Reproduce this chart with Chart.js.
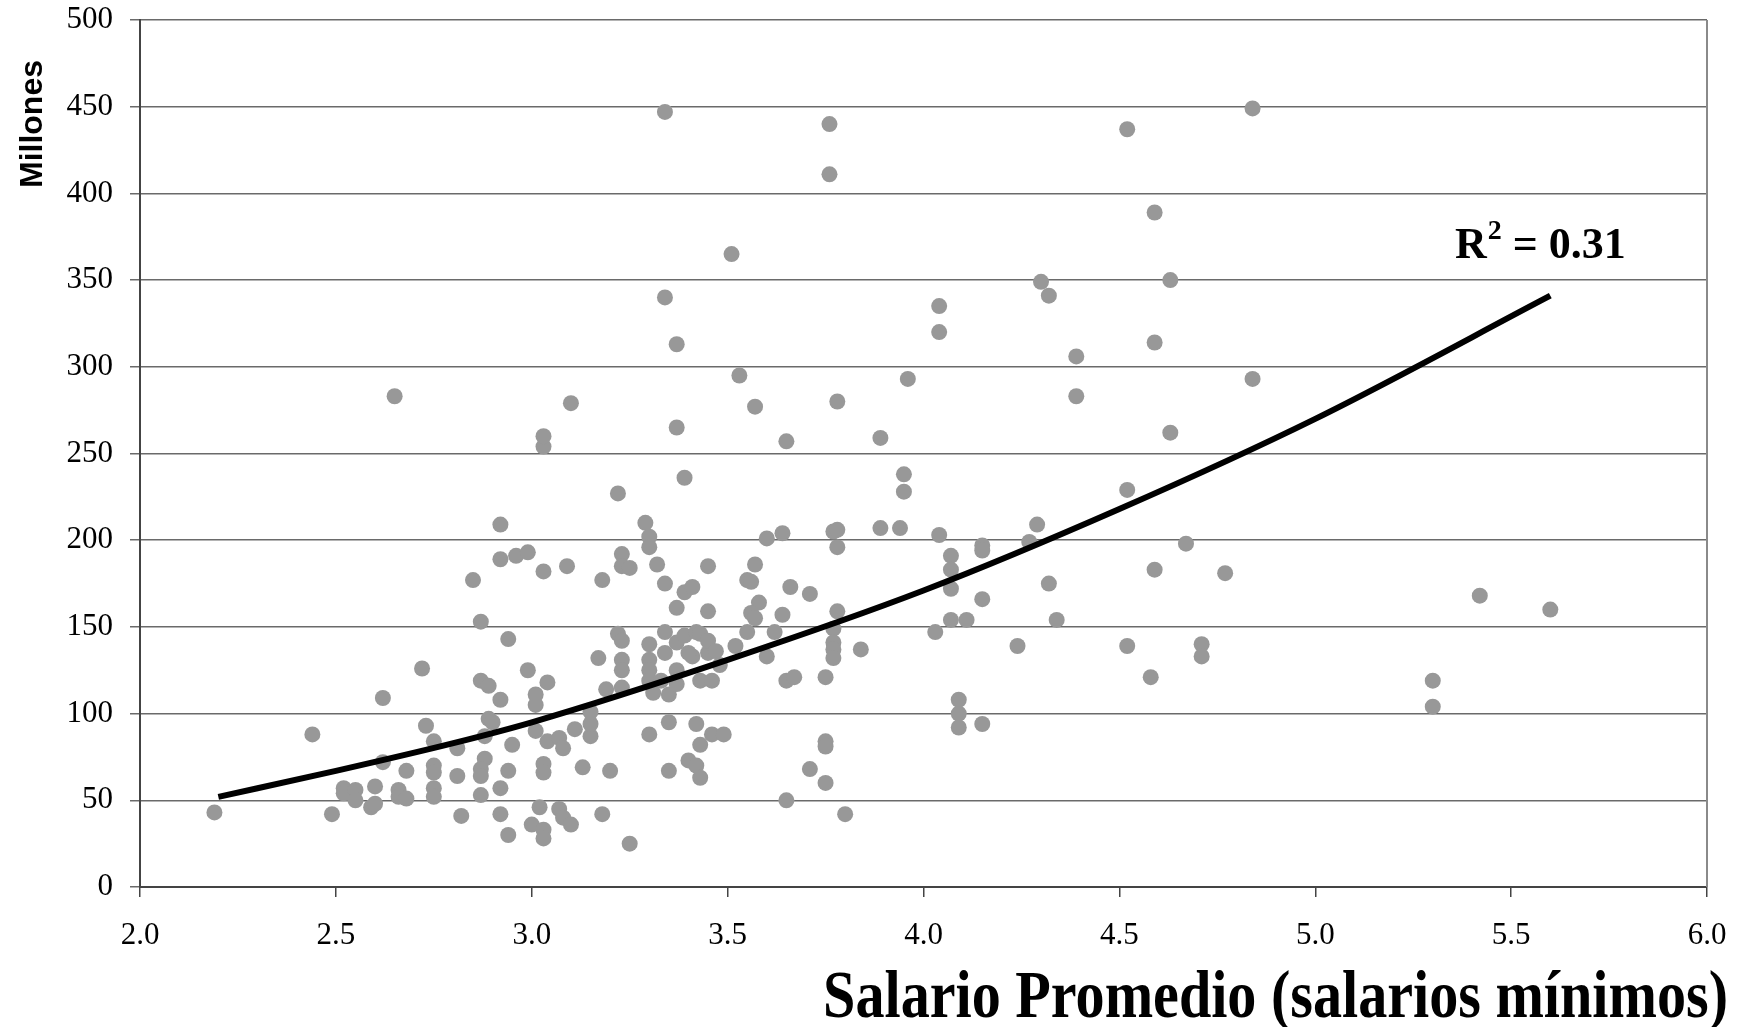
<!DOCTYPE html>
<html>
<head>
<meta charset="utf-8">
<title>Salario promedio vs millones</title>
<script src="https://cdn.jsdelivr.net/npm/chart.js@4.4.1/dist/chart.umd.min.js"></script>
<style>
  html, body { margin: 0; padding: 0; background: #fff; }
  #wrap { width: 1752px; height: 1027px; position: relative; }
</style>
</head>
<body>
<div id="wrap"><canvas id="scatterChart"></canvas></div>
<script>
// salario promedio (salarios mínimos) de cada punto
const salario = [
    2.19, 2.44, 2.49, 2.52, 2.52, 2.55, 2.55, 2.59, 2.60, 2.60,
    2.62, 2.62, 2.65, 2.66, 2.66, 2.68, 2.68, 2.72, 2.73, 2.75,
    2.75, 2.75, 2.75, 2.75,
    2.81, 2.81, 2.82, 2.85, 2.87, 2.87, 2.89, 2.92, 2.89, 2.90,
    2.88, 2.95, 2.88, 2.87, 2.87, 2.94, 2.87, 2.92, 2.92, 2.94,
    2.94, 2.92, 2.92, 2.96, 2.99, 2.99, 3.01, 3.01, 3.01, 3.04,
    3.07, 3.08, 3.03, 3.03, 3.04, 3.03, 3.09, 3.03, 3.03, 3.10,
    3.00, 3.02, 3.03, 3.03, 3.07, 3.08, 3.10, 3.11, 3.15, 3.15,
    3.15, 3.13, 3.18, 3.20, 3.19, 3.17, 3.18, 3.22, 3.22, 3.23,
    3.23, 3.23, 3.23, 3.23, 3.23, 3.25, 3.25, 3.30, 3.29, 3.30,
    3.30, 3.30, 3.30, 3.30, 3.30, 3.31, 3.33, 3.32, 3.34, 3.34,
    3.34, 3.35, 3.35, 3.35, 3.37, 3.37, 3.37, 3.37, 3.39, 3.39,
    3.39, 3.41, 3.41, 3.42, 3.40, 3.42, 3.43, 3.42, 3.43, 3.45,
    3.45, 3.45, 3.43, 3.46, 3.46, 3.49, 3.43, 3.45, 3.47, 3.48,
    3.40,
    3.34, 3.76, 3.76, 3.51, 3.34, 4.04, 4.04, 3.37, 3.53, 3.96,
    3.57, 3.78, 3.37, 3.65, 3.89,
    3.95, 3.95, 3.60, 3.64, 3.57, 3.55, 3.56, 3.58, 3.56, 3.57,
    3.55, 3.52, 3.60, 3.62, 3.64, 3.66, 3.71, 3.77, 3.78, 3.78,
    3.78, 3.77, 3.77, 3.77, 3.77, 3.84, 3.75, 3.65, 3.67, 3.89,
    3.94, 4.04, 4.07, 4.07, 4.07, 4.07, 4.03, 4.09, 4.09, 4.09,
    3.75, 3.75, 3.71, 3.75, 3.65, 3.80,
    4.52, 4.29, 4.27, 4.15, 4.15, 4.15, 4.32, 4.11, 4.34, 4.67,
    4.59, 4.24, 4.52, 4.58, 4.71, 4.71, 4.15, 4.77, 5.30, 5.30,
    5.42, 5.60, 4.84, 4.52, 4.59, 4.30, 4.32, 4.63, 4.59, 4.39,
    4.39, 4.84, 4.63
];

// millones de cada punto (mismo orden)
const millones = [
    43, 88, 42, 57, 54, 56, 50, 46, 48, 58,
    72, 109, 283, 56, 52, 67, 51, 126, 93, 84,
    70, 66, 57, 52,
    80, 64, 41, 177, 153, 119, 116, 108, 97, 95,
    87, 82, 74, 68, 64, 67, 53, 57, 42, 30,
    143, 209, 189, 191, 193, 125, 111, 105, 90, 84,
    86, 80, 71, 66, 118, 182, 185, 254, 260, 279,
    36, 46, 33, 28, 45, 40, 36, 91, 87, 94,
    101, 69, 42, 67, 114, 132, 177, 227, 146, 142,
    131, 125, 115, 192, 185, 184, 25, 88, 210, 202,
    196, 140, 131, 125, 119, 112, 119, 186, 175, 147,
    135, 111, 95, 67, 161, 141, 125, 117, 145, 170,
    236, 173, 133, 147, 73, 70, 63, 94, 82, 159,
    185, 135, 119, 119, 88, 88, 146, 142, 136, 128,
    135,
    447, 440, 411, 365, 340, 335, 320, 313, 295, 293,
    277, 280, 265, 257, 259,
    238, 228, 201, 204, 186, 177, 176, 164, 158, 155,
    147, 139, 133, 147, 157, 173, 169, 205, 206, 196,
    159, 149, 141, 137, 132, 137, 121, 119, 121, 207,
    207, 203, 191, 183, 172, 154, 147, 108, 100, 92,
    84, 81, 68, 60, 50, 42,
    229, 209, 199, 197, 194, 166, 175, 154, 154, 198,
    183, 139, 139, 121, 140, 133, 94, 181, 119, 104,
    168, 160, 449, 437, 389, 349, 341, 350, 314, 306,
    283, 293, 262
];

// línea de tendencia
const trendX = [2.2, 2.5, 2.8, 3.0, 3.5, 4.0, 4.5, 5.0, 5.6];
const trendY = [52, 67, 83, 95, 131, 171, 218, 270, 341];

const r2Label = '0.31';
const xTitle = 'Salario Promedio (salarios mínimos)';
const yTitle = 'Millones';

const puntos = salario.map((x, i) => ({ x: x, y: millones[i] }));
const tendencia = trendX.map((x, i) => ({ x: x, y: trendY[i] }));

const extraText = {
    id: 'extraText',
    afterDraw(chart) {
        const ctx = chart.ctx;
        const area = chart.chartArea;
        ctx.save();

        // borde derecho del área de trazado
        ctx.strokeStyle = '#8a8a8a';
        ctx.lineWidth = 2;
        ctx.beginPath();
        ctx.moveTo(area.right, area.top);
        ctx.lineTo(area.right, area.bottom);
        ctx.stroke();

        ctx.fillStyle = '#000';

        // título eje Y
        ctx.save();
        ctx.translate(42, 124);
        ctx.rotate(-Math.PI / 2);
        ctx.font = 'bold 32px "Liberation Sans", Arial, sans-serif';
        ctx.textAlign = 'center';
        ctx.textBaseline = 'alphabetic';
        ctx.fillText(yTitle, 0, 0);
        ctx.restore();

        // título eje X (tipografía condensada)
        ctx.save();
        ctx.translate(1728, 1017);
        ctx.scale(0.855, 1);
        ctx.font = 'bold 68px "Liberation Serif", "Times New Roman", serif';
        ctx.textAlign = 'right';
        ctx.textBaseline = 'alphabetic';
        ctx.fillText(xTitle, 0, 0);
        ctx.restore();

        // R²
        ctx.textAlign = 'left';
        ctx.textBaseline = 'alphabetic';
        let x = 1455;
        ctx.font = 'bold 44px "Liberation Serif", "Times New Roman", serif';
        ctx.fillText('R', x, 258);
        x += ctx.measureText('R').width + 1;
        ctx.font = 'bold 28px "Liberation Serif", "Times New Roman", serif';
        ctx.fillText('2', x, 239);
        x += ctx.measureText('2').width;
        ctx.font = 'bold 44px "Liberation Serif", "Times New Roman", serif';
        ctx.fillText(' = ' + r2Label, x, 258);

        ctx.restore();
    }
};

const ctx = document.getElementById('scatterChart').getContext('2d');

new Chart(ctx, {
    type: 'scatter',
    data: {
        datasets: [
            {
                label: 'Tendencia',
                data: tendencia,
                showLine: true,
                borderColor: '#000',
                borderWidth: 6,
                pointRadius: 0,
                cubicInterpolationMode: 'monotone',
                order: 0
            },
            {
                label: 'Municipios',
                data: puntos,
                backgroundColor: '#989898',
                borderWidth: 0,
                pointRadius: 8,
                pointHoverRadius: 8,
                order: 1
            }
        ]
    },
    options: {
        responsive: true,
        maintainAspectRatio: false,
        animation: false,
        devicePixelRatio: 1,
        layout: {
            padding: { left: 0, right: 45, top: 20, bottom: 0 }
        },
        plugins: {
            legend: { display: false },
            tooltip: { enabled: false }
        },
        scales: {
            x: {
                type: 'linear',
                min: 2,
                max: 6,
                afterFit: scale => {
                    scale.height = 140;
                    scale.paddingLeft = 0;
                    scale.paddingRight = 0;
                },
                ticks: {
                    stepSize: 0.5,
                    padding: 20,
                    color: '#000',
                    font: { family: '"Liberation Serif", "Times New Roman", serif', size: 31 },
                    callback: v => v.toFixed(1)
                },
                grid: {
                    drawOnChartArea: false,
                    drawTicks: true,
                    tickLength: 10,
                    color: '#444',
                    lineWidth: 1.5
                },
                border: { color: '#444', width: 2 }
            },
            y: {
                min: 0,
                max: 500,
                afterFit: scale => {
                    scale.width = 140;
                    scale.paddingTop = 0;
                    scale.paddingBottom = 0;
                },
                ticks: {
                    stepSize: 50,
                    padding: 17,
                    color: '#000',
                    font: { family: '"Liberation Serif", "Times New Roman", serif', size: 31 }
                },
                grid: {
                    color: '#6a6a6a',
                    lineWidth: 1.5,
                    tickLength: 10
                },
                border: { color: '#444', width: 2 }
            }
        }
    },
    plugins: [extraText]
});
</script>
</body>
</html>
